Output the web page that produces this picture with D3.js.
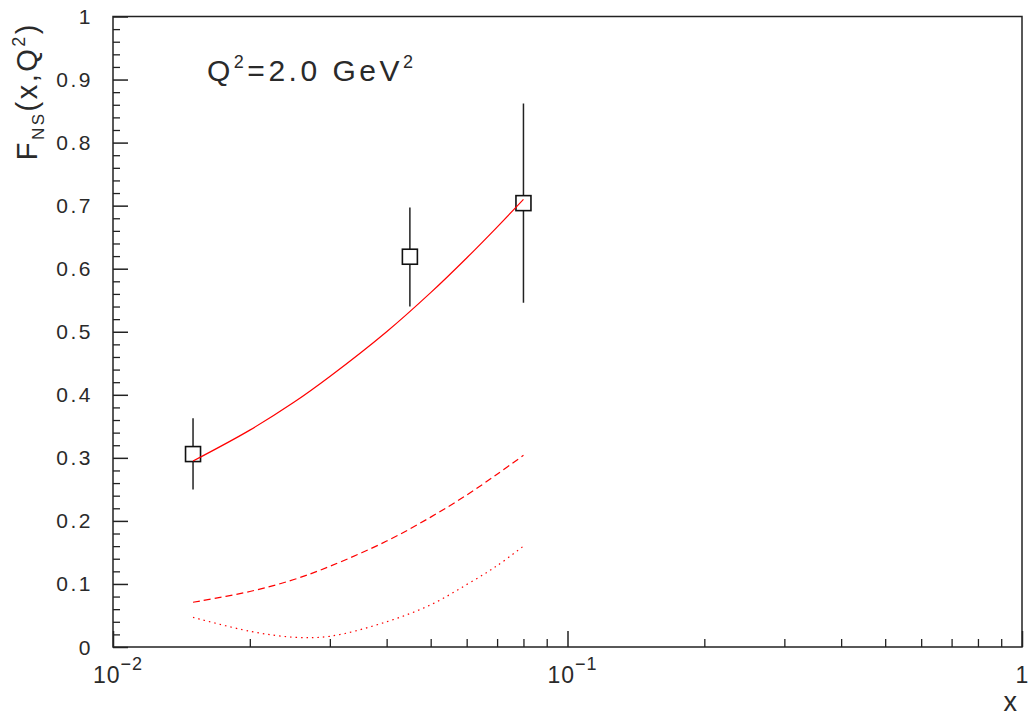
<!DOCTYPE html>
<html>
<head>
<meta charset="utf-8">
<script src="https://cdn.jsdelivr.net/npm/d3@7"></script>
<style>
  body { margin: 0; background: #fff; }
  text { font-family: "Liberation Sans", Arial, sans-serif; fill: #2a2a2a; }
</style>
</head>
<body>
<div id="chart"></div>
<script>
// data points (x, F_NS, error low, error high)
const dataX = [0.015, 0.045, 0.080];
const dataY = [0.306, 0.619, 0.704];
const errLow = [0.250, 0.540, 0.546];
const errHigh = [0.363, 0.697, 0.862];

// curves
const curveX = [0.015, 0.02, 0.025, 0.03, 0.04, 0.05, 0.06, 0.07, 0.08];
const solidY = [0.295, 0.344, 0.388, 0.429, 0.500, 0.562, 0.617, 0.666, 0.710];
const dashedY = [0.071, 0.088, 0.107, 0.128, 0.168, 0.206, 0.241, 0.274, 0.304];
const dottedY = [0.047, 0.025, 0.0155, 0.017, 0.040, 0.067, 0.099, 0.129, 0.160];

const yMajor = [0, 0.1, 0.2, 0.3, 0.4, 0.5, 0.6, 0.7, 0.8, 0.9, 1];
const yLabels = ["0", "0.1", "0.2", "0.3", "0.4", "0.5", "0.6", "0.7", "0.8", "0.9", "1"];
const xMajor = [0.01, 0.1, 1];

const W = 1030, H = 718;
const pLeft = 113, pRight = 1022, pTop = 16.5, pBottom = 647;

const svg = d3.select("#chart").append("svg")
    .attr("width", W)
    .attr("height", H);

const x = d3.scaleLog().domain([0.01, 1]).range([pLeft, pRight]);
const y = d3.scaleLinear().domain([0, 1]).range([pBottom, pTop]);

// minor ticks
const yMinor = d3.range(0, 50).map(i => i * 0.02).filter(v => Math.abs(v * 10 - Math.round(v * 10)) > 1e-6);
const xMinor = [];
[0.01, 0.1].forEach(d => { for (let k = 2; k <= 9; k++) xMinor.push(d * k); });

// frame
svg.append("rect")
    .attr("x", pLeft).attr("y", pTop)
    .attr("width", pRight - pLeft).attr("height", pBottom - pTop)
    .attr("fill", "none").attr("stroke", "#222").attr("stroke-width", 1.5);

// y axis ticks (pointing into the plot)
svg.append("g")
    .attr("transform", `translate(${pLeft},0)`)
    .call(d3.axisLeft(y).tickValues(yMajor).tickSize(-15).tickFormat(""))
    .call(g => g.select(".domain").remove())
    .selectAll("line").attr("stroke", "#222").attr("stroke-width", 1.5);
svg.append("g")
    .attr("transform", `translate(${pLeft},0)`)
    .call(d3.axisLeft(y).tickValues(yMinor).tickSize(-7).tickFormat(""))
    .call(g => g.select(".domain").remove())
    .selectAll("line").attr("stroke", "#222").attr("stroke-width", 1.3);

// x axis ticks
svg.append("g")
    .attr("transform", `translate(0,${pBottom})`)
    .call(d3.axisBottom(x).tickValues(xMajor).tickSize(-16).tickFormat(""))
    .call(g => g.select(".domain").remove())
    .selectAll("line").attr("stroke", "#222").attr("stroke-width", 1.5);
svg.append("g")
    .attr("transform", `translate(0,${pBottom})`)
    .call(d3.axisBottom(x).tickValues(xMinor).tickSize(-8).tickFormat(""))
    .call(g => g.select(".domain").remove())
    .selectAll("line").attr("stroke", "#222").attr("stroke-width", 1.3);

// y tick labels
svg.selectAll(".ylab")
    .data(yMajor)
    .enter()
    .append("text")
    .attr("class", "ylab")
    .attr("x", pLeft - 20)
    .attr("y", d => y(d) + 7.5)
    .attr("text-anchor", "end")
    .style("font-size", "21px")
    .style("letter-spacing", "2.5px")
    .text((d, i) => yLabels[i]);

// x tick labels
[[0.01, "−2"], [0.1, "−1"]].forEach(([v, p]) => {
    const t = svg.append("text")
        .attr("x", x(v) - 20)
        .attr("y", 683)
        .style("font-size", "23px")
        .style("letter-spacing", "1px");
    t.append("tspan").text("10");
    t.append("tspan").attr("dy", -13).style("font-size", "18px").text(p);
});
svg.append("text")
    .attr("x", x(1))
    .attr("y", 683)
    .attr("text-anchor", "middle")
    .style("font-size", "23px")
    .text("1");

// axis titles
svg.append("text")
    .attr("x", 1017)
    .attr("y", 711)
    .attr("text-anchor", "end")
    .style("font-size", "27px")
    .text("x");

const yt = svg.append("text")
    .attr("transform", "translate(37,22) rotate(-90)")
    .attr("text-anchor", "end")
    .style("font-size", "29px")
    .style("letter-spacing", "2.5px");
yt.append("tspan").text("F");
yt.append("tspan").attr("dy", 7).style("font-size", "17px").text("NS");
yt.append("tspan").attr("dy", -7).text("(x,Q");
yt.append("tspan").attr("dy", -12).style("font-size", "18px").text("2");
yt.append("tspan").attr("dy", 12).text(")");

// Q^2 label
const qt = svg.append("text")
    .attr("x", 207)
    .attr("y", 81)
    .style("font-size", "30px")
    .style("letter-spacing", "3.5px");
qt.append("tspan").text("Q");
qt.append("tspan").attr("dy", -13).style("font-size", "18px").text("2");
qt.append("tspan").attr("dy", 13).text("=2.0 GeV");
qt.append("tspan").attr("dy", -13).style("font-size", "18px").text("2");

// error bars and squares
const pts = dataX.map((d, i) => ({ x: d, y: dataY[i], lo: errLow[i], hi: errHigh[i] }));

svg.selectAll(".err")
    .data(pts)
    .enter()
    .append("line")
    .attr("class", "err")
    .attr("x1", d => x(d.x)).attr("x2", d => x(d.x))
    .attr("y1", d => y(d.lo)).attr("y2", d => y(d.hi))
    .attr("stroke", "#222").attr("stroke-width", 1.5);

svg.selectAll(".sq")
    .data(pts)
    .enter()
    .append("rect")
    .attr("class", "sq")
    .attr("x", d => x(d.x) - 7.5)
    .attr("y", d => y(d.y) - 7.5)
    .attr("width", 15).attr("height", 15)
    .attr("fill", "#fff")
    .attr("stroke", "#111").attr("stroke-width", 1.6);

// curves
const line = d3.line()
    .x(d => x(d[0]))
    .y(d => y(d[1]))
    .curve(d3.curveCatmullRom);

[[solidY, null], [dashedY, "7,4"], [dottedY, "1.5,4"]].forEach(([vals, dash]) => {
    svg.append("path")
        .attr("d", line(curveX.map((d, i) => [d, vals[i]])))
        .attr("fill", "none")
        .attr("stroke", "#ff0000")
        .attr("stroke-width", 1.2)
        .attr("stroke-dasharray", dash);
});
</script>
</body>
</html>
